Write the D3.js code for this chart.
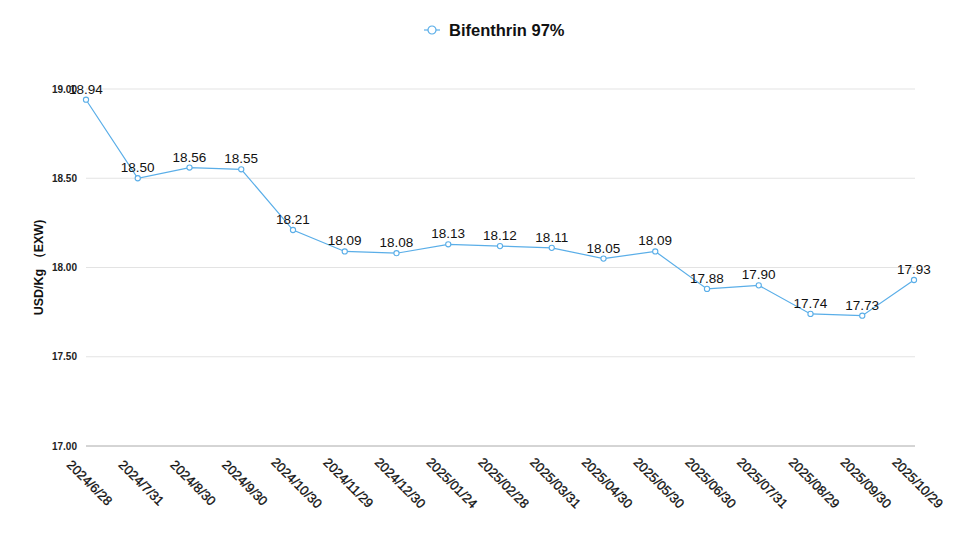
<!DOCTYPE html>
<html>
<head>
<meta charset="utf-8">
<script src="https://cdn.jsdelivr.net/npm/d3@7"></script>
<style>
  body { margin: 0; background: #fff; }
  svg { font-family: "Liberation Sans", Arial, sans-serif; }
</style>
</head>
<body>
<div id="chart-area"></div>
<script>
// chart data
var dates = ["2024/6/28", "2024/7/31", "2024/8/30", "2024/9/30", "2024/10/30", "2024/11/29",
  "2024/12/30", "2025/01/24", "2025/02/28", "2025/03/31", "2025/04/30", "2025/05/30",
  "2025/06/30", "2025/07/31", "2025/08/29", "2025/09/30", "2025/10/29"];
var prices = [18.94, 18.50, 18.56, 18.55, 18.21, 18.09, 18.08, 18.13, 18.12, 18.11, 18.05, 18.09,
  17.88, 17.90, 17.74, 17.73, 17.93];
var yTicks = [17.00, 17.50, 18.00, 18.50, 19.00];
var seriesName = "Bifenthrin 97%";

var width = 959,
	height = 537;
var margin = {top: 89, right: 44, bottom: 91, left: 86};
var lineColor = "#5aaee8";

var svg = d3.select("#chart-area").append("svg")
	.attr("width", width).attr("height", height);

var x = d3.scalePoint()
	.domain(dates)
	.range([margin.left, width - margin.right - 1]);
var y = d3.scaleLinear()
	.domain([17, 19])
	.range([height - margin.bottom, margin.top]);

// grid lines
svg.selectAll("line.grid")
	.data(yTicks)
	.enter()
	.append("line")
	.attr("class", "grid")
	.attr("x1", margin.left)
	.attr("x2", width - margin.right)
	.attr("y1", function(d) { return y(d); })
	.attr("y2", function(d) { return y(d); })
	.attr("stroke", function(d) { return d == 17 ? "#aaaaaa" : "#e3e3e3"; })
	.attr("stroke-width", 1);

// y axis labels
var yAxis = d3.axisLeft(y)
	.tickValues(yTicks)
	.tickFormat(d3.format(".2f"))
	.tickSize(0)
	.tickPadding(9);
var yg = svg.append("g")
	.attr("transform", "translate(" + margin.left + ",0)")
	.call(yAxis);
yg.select(".domain").remove();
yg.selectAll("text")
	.attr("font-size", 10)
	.attr("font-weight", "bold")
	.attr("fill", "#222");

// x axis labels, rotated
var xAxis = d3.axisBottom(x).tickSize(0);
var xg = svg.append("g")
	.attr("transform", "translate(0," + (height - margin.bottom) + ")")
	.call(xAxis);
xg.select(".domain").remove();
xg.selectAll("text")
	.attr("font-size", 13)
	.attr("fill", "#111")
	.attr("stroke", "#111")
	.attr("stroke-width", 0.3)
	.attr("text-anchor", "middle")
	.attr("dy", null)
	.attr("y", 0)
	.attr("transform", "translate(0,40) rotate(45)");

// y axis title
svg.append("text")
	.attr("transform", "translate(43," + ((margin.top + height - margin.bottom) / 2) + ") rotate(-90)")
	.attr("text-anchor", "middle")
	.attr("font-size", 12.5)
	.attr("font-weight", "bold")
	.attr("fill", "#111")
	.text("USD/Kg （EXW)");

// line
var line = d3.line()
	.x(function(d, i) { return x(dates[i]); })
	.y(function(d) { return y(d); });
svg.append("path")
	.datum(prices)
	.attr("d", line)
	.attr("fill", "none")
	.attr("stroke", lineColor)
	.attr("stroke-width", 1.2);

svg.selectAll("circle.pt")
	.data(prices)
	.enter()
	.append("circle")
	.attr("class", "pt")
	.attr("cx", function(d, i) { return x(dates[i]); })
	.attr("cy", function(d) { return y(d); })
	.attr("r", 2.6)
	.attr("fill", "#fff")
	.attr("stroke", lineColor)
	.attr("stroke-width", 1.1);

// value labels
svg.selectAll("text.val")
	.data(prices)
	.enter()
	.append("text")
	.attr("class", "val")
	.attr("x", function(d, i) { return x(dates[i]); })
	.attr("y", function(d) { return y(d) - 6; })
	.attr("text-anchor", "middle")
	.attr("font-size", 13.5)
	.attr("fill", "#111")
	.text(function(d) { return d.toFixed(2); });

// legend
var legend = svg.append("g").attr("transform", "translate(432,30)");
legend.append("line")
	.attr("x1", -8).attr("x2", 8)
	.attr("stroke", lineColor).attr("stroke-width", 1.2);
legend.append("circle")
	.attr("r", 4)
	.attr("fill", "#fff")
	.attr("stroke", lineColor)
	.attr("stroke-width", 1.2);
legend.append("text")
	.attr("x", 17)
	.attr("y", 6)
	.attr("font-size", 16.5)
	.attr("font-weight", "bold")
	.attr("fill", "#111")
	.text(seriesName);
</script>
</body>
</html>
